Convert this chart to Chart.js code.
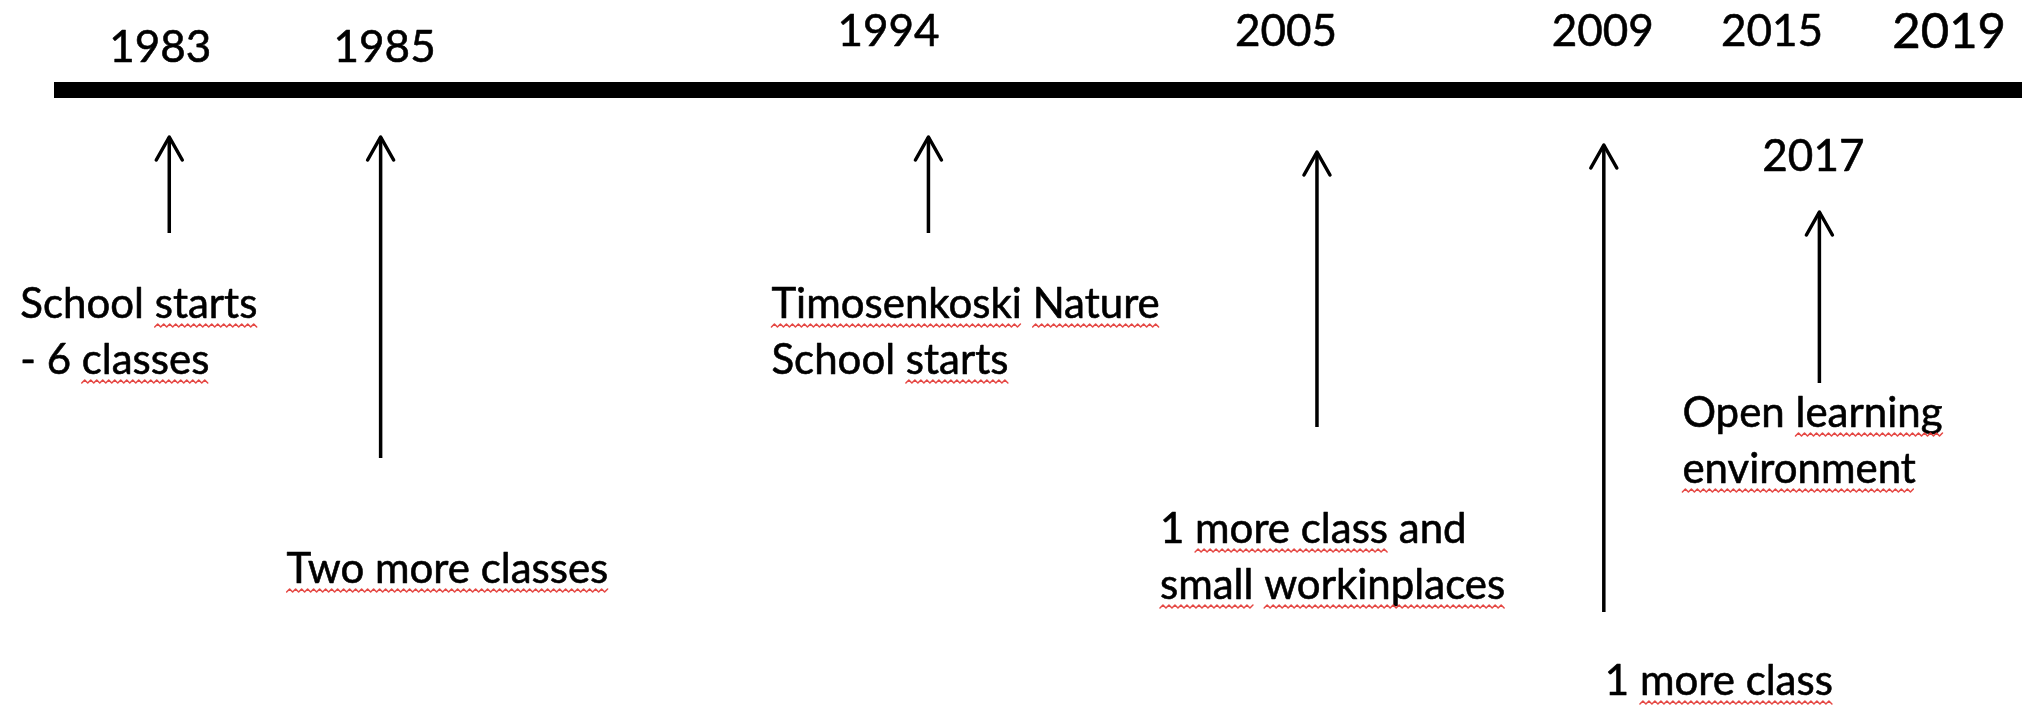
<!DOCTYPE html>
<html><head><meta charset="utf-8">
<script src="https://cdn.jsdelivr.net/npm/chart.js@4.4.1/dist/chart.umd.min.js"></script>
<style>html,body{margin:0;padding:0;background:#fff;overflow:hidden}#wrap{width:2022px;height:718px;position:relative}</style>
</head><body><div id="wrap"><canvas id="c"></canvas></div>
<script>
// ---- data ----
const yearTicks = [1983, 1985, 1994, 2005, 2009, 2015, 2017, 2019];
const eventYears = [1983, 1985, 1994, 2005, 2009, 2017];
const eventTexts = [
  ['School ~starts~', '- 6 ~classes~'],
  ['~Two more classes~'],
  ['~Timosenkoski~ ~Nature~', 'School ~starts~'],
  ['1 ~more class~ and', '~small~ ~workinplaces~'],
  ['1 ~more class~'],
  ['Open ~learning~', '~environment~']
];
// depth levels on the vertical scale (0 = top of drawing)
const arrowTop = [137, 137, 137, 152, 145, 212];
const arrowBottom = [233, 458, 233, 427, 612, 383];
const textLevel = [318, 583, 318, 543, 695, 427];
const timelineLevel = 90;
const axisRange = { xMin: 1979, xMax: 2020.7, yMin: 0, yMax: 718 };

// ---- scale configuration: the drawn timeline is not proportional to time ----
// breakpoints: [year, fraction of the axis length]
const timelineBreaks = [
  [1979, 0], [1983, 0.054], [1985, 0.168], [1994, 0.424], [2005, 0.626],
  [2009, 0.787], [2015, 0.873], [2017, 0.894], [2019, 0.963], [2020.7, 1]
];

class TimelineScale extends Chart.LinearScale {
  toFraction(v) {
    const b = this.options.breaks;
    if (v <= b[0][0]) return b[0][1];
    for (let i = 1; i < b.length; i++) {
      if (v <= b[i][0]) {
        const t = (v - b[i - 1][0]) / (b[i][0] - b[i - 1][0]);
        return b[i - 1][1] + t * (b[i][1] - b[i - 1][1]);
      }
    }
    return b[b.length - 1][1];
  }
  getPixelForValue(value) {
    if (value === null || value === undefined || isNaN(value)) return NaN;
    return this.getPixelForDecimal(this.toFraction(value));
  }
  getValueForPixel(pixel) {
    const f = this.getDecimalForPixel(pixel);
    const b = this.options.breaks;
    for (let i = 1; i < b.length; i++) {
      if (f <= b[i][1]) {
        const t = (f - b[i - 1][1]) / (b[i][1] - b[i - 1][1]);
        return b[i - 1][0] + t * (b[i][0] - b[i - 1][0]);
      }
    }
    return b[b.length - 1][0];
  }
}
TimelineScale.id = 'timeline';
TimelineScale.defaults = Chart.LinearScale.defaults;
Chart.register(TimelineScale);

// ---- layout / style ----
const layout = {
  textOffsetX: [-140, -98, -117, -126, 2, -131],
  arrowOffsetX: [9, -4, 40, 31, 1, 6],
  lineHeight: 56,
  yearLevel: { 1983: 48, 1985: 48, 2017: 157 },
  yearLevelDefault: 32,
  yearSize: { 2019: 49 },
  yearSizeDefault: 44,
  textSize: 42,
  font: 'Lato, "Open Sans", sans-serif'
};

function drawSquiggle(ctx, x0, x1, yb) {
  ctx.save();
  ctx.strokeStyle = 'rgba(226,52,48,0.9)';
  ctx.lineWidth = 1.5;
  ctx.lineJoin = 'round';
  ctx.beginPath();
  const step = 3; let up = true;
  ctx.moveTo(x0, yb);
  for (let xx = x0 + step; xx <= x1; xx += step) {
    ctx.lineTo(xx, up ? yb - 3 : yb);
    up = !up;
  }
  ctx.stroke();
  ctx.restore();
}

function heavyText(ctx, s, x, y) {
  ctx.fillText(s, x, y);
  ctx.strokeText(s, x, y);
}

const decorPlugin = {
  id: 'timelineDecor',
  beforeDatasetsDraw(chart) {
    // shift arrow shafts by their style offsets
    const meta = chart.getDatasetMeta(1);
    meta.data.forEach((pt, k) => {
      const i = Math.floor(k / 3);
      pt.x = chart.scales.x.getPixelForValue(eventYears[i]) + layout.arrowOffsetX[i];
    });
  },
  afterDatasetsDraw(chart) {
    const { ctx, scales: { x, y } } = chart;
    ctx.save();
    // arrow heads
    ctx.strokeStyle = '#000'; ctx.lineWidth = 3.5; ctx.lineCap = 'round'; ctx.lineJoin = 'round';
    eventYears.forEach((yr, i) => {
      const px = x.getPixelForValue(yr) + layout.arrowOffsetX[i], py = y.getPixelForValue(arrowTop[i]);
      ctx.beginPath();
      ctx.moveTo(px - 13, py + 23); ctx.lineTo(px, py); ctx.lineTo(px + 13, py + 23);
      ctx.stroke();
    });
    // year labels
    ctx.fillStyle = '#000'; ctx.strokeStyle = '#000'; ctx.lineWidth = 0.6;
    ctx.textAlign = 'center'; ctx.textBaseline = 'middle';
    yearTicks.forEach(yr => {
      const size = layout.yearSize[yr] || layout.yearSizeDefault;
      const lvl = layout.yearLevel[yr] !== undefined ? layout.yearLevel[yr] : layout.yearLevelDefault;
      ctx.font = size + 'px ' + layout.font;
      heavyText(ctx, String(yr), x.getPixelForValue(yr), y.getPixelForValue(lvl));
    });
    // event texts
    ctx.textAlign = 'left'; ctx.textBaseline = 'alphabetic';
    ctx.font = layout.textSize + 'px ' + layout.font;
    eventYears.forEach((yr, i) => {
      const x0 = x.getPixelForValue(yr) + layout.textOffsetX[i];
      eventTexts[i].forEach((line, j) => {
        const yb = y.getPixelForValue(textLevel[i]) + j * layout.lineHeight;
        const parts = line.split('~');
        const plain = parts.join('');
        ctx.fillStyle = '#000'; ctx.strokeStyle = '#000'; ctx.lineWidth = 0.6;
        heavyText(ctx, plain, x0, yb);
        let acc = '';
        parts.forEach((p, k) => {
          if (k % 2 === 1 && p.length) {
            const s = x0 + ctx.measureText(acc).width;
            const e = s + ctx.measureText(p).width;
            drawSquiggle(ctx, s, e, yb + 9);
          }
          acc += p;
        });
      });
    });
    ctx.restore();
  }
};

const arrowShafts = eventYears.flatMap((yr, i) => [
  { x: yr, y: arrowBottom[i] }, { x: yr, y: arrowTop[i] }, { x: yr, y: null }
]);

new Chart(document.getElementById('c'), {
  type: 'scatter',
  data: {
    datasets: [
      {
        type: 'line', label: 'timeline',
        data: [{ x: axisRange.xMin, y: timelineLevel }, { x: axisRange.xMax, y: timelineLevel }],
        borderColor: '#000', borderWidth: 16, pointRadius: 0, borderCapStyle: 'butt', fill: false
      },
      {
        type: 'line', label: 'arrows', data: arrowShafts, spanGaps: false,
        borderColor: '#000', borderWidth: 3.5, pointRadius: 0, borderCapStyle: 'butt', fill: false
      }
    ]
  },
  options: {
    responsive: true, maintainAspectRatio: false, animation: false, devicePixelRatio: 1,
    layout: { padding: { left: 54, right: 0, top: 0, bottom: 0 } },
    scales: {
      x: { type: 'timeline', breaks: timelineBreaks, min: axisRange.xMin, max: axisRange.xMax, display: false },
      y: { type: 'linear', min: axisRange.yMin, max: axisRange.yMax, reverse: true, display: false }
    },
    plugins: { legend: { display: false }, tooltip: { enabled: false } },
    events: []
  },
  plugins: [decorPlugin]
});
</script>
</body></html>
